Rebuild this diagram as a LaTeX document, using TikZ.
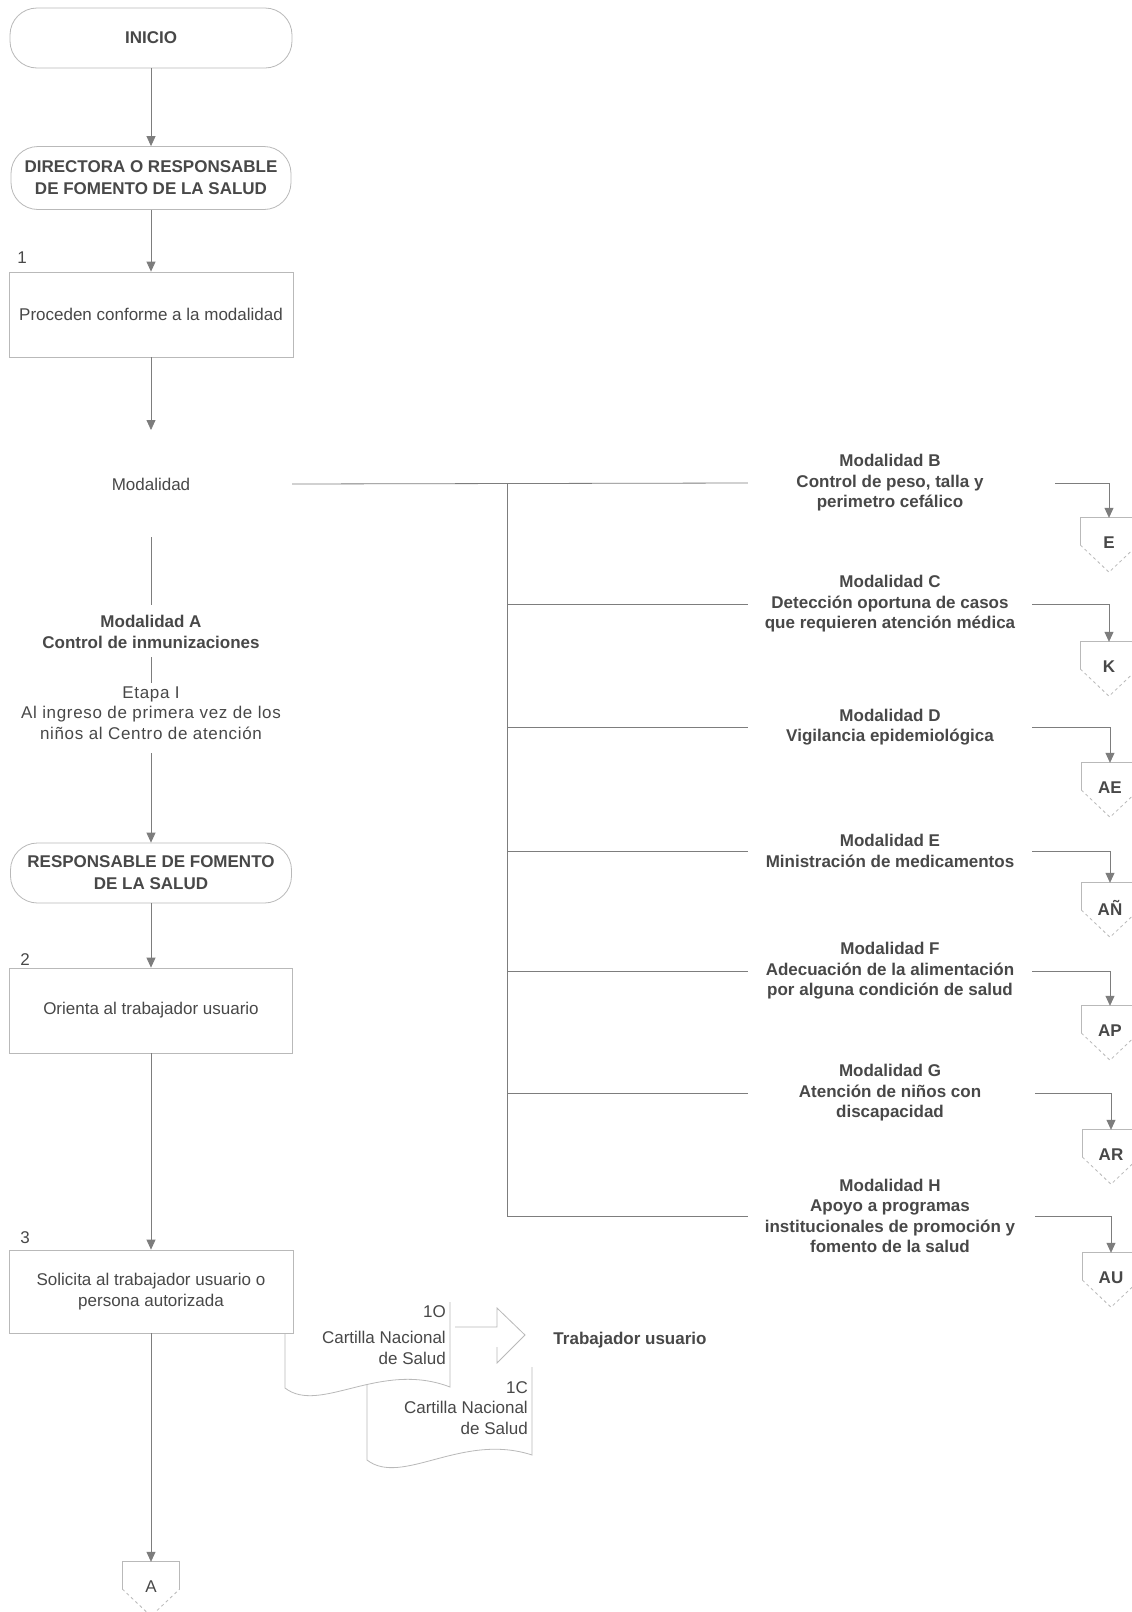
\documentclass[tikz,border=0pt]{standalone}
\usepackage{fontspec}
\setmainfont{Liberation Sans}
\newfontfamily\spacedfont[LetterSpace=4.0]{Liberation Sans}
\usetikzlibrary{arrows.meta,calc}
\definecolor{txt}{RGB}{72,72,72}
\definecolor{ln}{RGB}{125,125,125}
\definecolor{bd}{RGB}{185,185,185}
% off-page connector: [style] name, x, top y, label
\newcommand\offpageconn[5][head]{%
  \node[#1, inner sep=0pt, minimum width=57pt, minimum height=54pt] (#2) at (#3,#4+27) {\raisebox{4pt}{#5}};
  \draw[bd, line width=0.8pt] (#2.west) -- (#2.north west) -- (#2.north east) -- (#2.east);
  \draw[bd, line width=0.8pt, dashed] (#2.west) -- (#2.south) -- (#2.east);
}
\begin{document}
\begin{tikzpicture}[x=1pt,y=-1pt,
  font=\fontsize{17}{20.5}\selectfont, text=txt,
  term/.style={draw=bd, line width=0.8pt, rounded corners=27pt, fill=white,
    font=\fontsize{17}{22}\selectfont\bfseries, align=center, inner sep=0pt},
  procbox/.style={draw=bd, line width=0.8pt, fill=white, align=center, inner sep=0pt},
  lbl/.style={align=center, inner sep=0pt},
  head/.style={align=center, inner sep=0pt, font=\fontsize{17}{20.5}\selectfont\bfseries},
  plain/.style={align=center, inner sep=0pt},
  flow/.style={draw=ln, line width=0.8pt},
  arr/.style={flow, -{Triangle[width=9pt,length=10pt]}}
]
\useasboundingbox[fill=white] (0,0) rectangle (1132,1612);

% ---------- left column ----------
\node[term, minimum width=282pt, minimum height=60pt] (ini) at (151,38) {INICIO};
\node[term, minimum width=280pt, minimum height=63pt] (dir) at (151,178)
  {DIRECTORA O RESPONSABLE\\DE FOMENTO DE LA SALUD};
\node[lbl] (n1) at (22,258) {1};
\node[procbox, minimum width=284pt, minimum height=85pt] (b1) at (151,314.5)
  {Proceden conforme a la modalidad};
\coordinate (m1) at (151,430);
\node[lbl, minimum width=282pt] (mod) at (151,484) {Modalidad};
\coordinate (m2) at (151,537);
\coordinate (m3) at (151,605);
\node[head] (modA) at (151,632) {Modalidad A\\Control de inmunizaciones};
\coordinate (m4) at (151,657);
\coordinate (m5) at (151,683);
\node[lbl, font=\fontsize{17}{20.5}\spacedfont] (etapa) at (151,713)
  {Etapa I\\Al ingreso de primera vez de los\\niños al Centro de atención};
\coordinate (m6) at (151,753);
\node[term, minimum width=281pt, minimum height=60pt] (resp) at (151,873)
  {RESPONSABLE DE FOMENTO\\DE LA SALUD};
\node[lbl] (n2) at (25,960) {2};
\node[procbox, minimum width=283pt, minimum height=85pt] (b2) at (151,1010.5)
  {Orienta al trabajador usuario};
\node[lbl] (n3) at (25,1238) {3};

% documents handed over (drawn before box 3, which overlaps them)
\filldraw[fill=white, draw=bd, line width=0.8pt]
  (532,1367) -- (532,1455) .. controls (462,1432) and (402,1487) .. (367,1460) -- (367,1367);
\node[lbl, align=right, anchor=north east] (d1c) at (528,1381)
  {1C\\Cartilla Nacional\\de Salud};
\fill[white] (450,1302) -- (450,1387) .. controls (380,1360) and (320,1415) .. (285,1388) -- (285,1302) -- cycle;
\draw[bd, line width=0.8pt]
  (450,1302) -- (450,1387) .. controls (380,1360) and (320,1415) .. (285,1388) -- (285,1302);
\node[lbl, align=right, anchor=north east] (d1o) at (446,1305)
  {1O\\[6pt]Cartilla Nacional\\de Salud};

\node[procbox, minimum width=284pt, minimum height=83pt] (b3) at (151,1291.5)
  {Solicita al trabajador usuario o\\persona autorizada};
\offpageconn[plain]{cA}{151}{1562}{A}

% open block arrow towards the recipient
\draw[bd, line width=0.8pt] (455,1327) -- (497,1327) -- (497,1308) -- (525,1335)
  -- (497,1363) -- (497,1347);
\node[head] (tu) at (630,1340) {Trabajador usuario};

% left column connectors
\draw[arr] (ini) -- (dir);
\draw[arr] (dir) -- (b1);
\draw[arr] (b1) -- (m1);
\draw[flow] (m2) -- (m3);
\draw[flow] (m4) -- (m5);
\draw[arr] (m6) -- (resp);
\draw[arr] (resp) -- (b2);
\draw[arr] (b2) -- (b3);
\draw[arr] (b3) -- (cA);

% ---------- modalities ----------
\node[head, minimum width=284pt] (mB) at (890,483)
  {Modalidad B\\Control de peso, talla y\\perimetro cefálico};
\node[head, minimum width=284pt] (mC) at (890,604)
  {Modalidad C\\Detección oportuna de casos\\que requieren atención médica};
\node[head, minimum width=284pt] (mD) at (890,727)
  {Modalidad D\\Vigilancia epidemiológica};
\node[head, minimum width=284pt] (mE) at (890,851)
  {Modalidad E\\Ministración de medicamentos};
\node[head, minimum width=284pt] (mF) at (890,971)
  {Modalidad F\\Adecuación de la alimentación\\por alguna condición de salud};
\node[head, minimum width=284pt] (mG) at (890,1093)
  {Modalidad G\\Atención de niños con\\discapacidad};
\node[head, minimum width=284pt] (mH) at (890,1216)
  {Modalidad H\\Apoyo a programas\\institucionales de promoción y\\fomento de la salud};

\offpageconn{cE}{1109}{518}{E}
\offpageconn{cK}{1109}{642}{K}
\offpageconn{cAE}{1110}{763}{AE}
\offpageconn{cAN}{1110}{883}{AÑ}
\offpageconn{cAP}{1110}{1006}{AP}
\offpageconn{cAR}{1111}{1130}{AR}
\offpageconn{cAU}{1111}{1253}{AU}

% branching trunk
\coordinate (trunk) at (507,0);
\draw[flow] (mod.east) -- (mB.west);
\draw[flow] (trunk |- mB.west) -- (trunk |- mH.west);
\foreach \m in {mC,mD,mE,mF,mG,mH}
  \draw[flow] (trunk |- \m.west) -- (\m.west);

% exits to off-page connectors
\draw[arr] ([xshift=23pt]mB.east) -| (cE.north);
\draw[arr] (mC.east) -| (cK.north);
\draw[arr] (mD.east) -| (cAE.north);
\draw[arr] (mE.east) -| (cAN.north);
\draw[arr] (mF.east) -| (cAP.north);
\draw[arr] ([xshift=3pt]mG.east) -| (cAR.north);
\draw[arr] ([xshift=3pt]mH.east) -| (cAU.north);
\end{tikzpicture}
\end{document}
